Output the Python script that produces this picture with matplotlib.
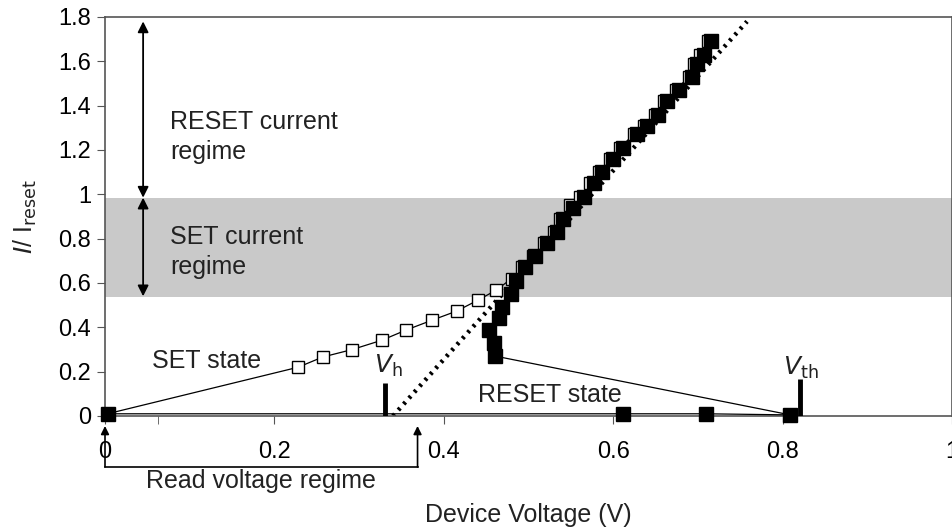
import matplotlib
matplotlib.use("Agg")
import matplotlib.pyplot as plt

plt.rcParams['font.family'] = ['Liberation Sans', 'DejaVu Sans']

# SET state (open squares)
set_v = [0.003, 0.228, 0.257, 0.292, 0.327, 0.355, 0.386, 0.415, 0.44, 0.462, 0.480,
         0.492, 0.505, 0.518, 0.530, 0.537, 0.549, 0.561, 0.573, 0.583, 0.596,
         0.608, 0.624, 0.636, 0.649, 0.660, 0.674, 0.689, 0.695, 0.703, 0.712]
set_i = [0.01, 0.22, 0.266, 0.30, 0.342, 0.387, 0.432, 0.473, 0.522, 0.568, 0.62,
         0.67, 0.72, 0.78, 0.83, 0.89, 0.95, 0.99, 1.05, 1.10, 1.16,
         1.21, 1.27, 1.31, 1.36, 1.42, 1.47, 1.53, 1.59, 1.63, 1.69]

# RESET state (filled squares)
reset_v = [0.003, 0.612, 0.709, 0.809, 0.461, 0.459, 0.453, 0.465, 0.469, 0.479, 0.485,
           0.496, 0.508, 0.522, 0.534, 0.541, 0.553, 0.565, 0.577, 0.587, 0.600,
           0.612, 0.628, 0.640, 0.653, 0.664, 0.678, 0.693, 0.699, 0.707, 0.716]
reset_i = [0.01, 0.01, 0.01, 0.005, 0.27, 0.33, 0.39, 0.44, 0.49, 0.55, 0.61,
           0.67, 0.72, 0.78, 0.83, 0.89, 0.94, 0.99, 1.05, 1.10, 1.16,
           1.21, 1.27, 1.31, 1.36, 1.42, 1.47, 1.53, 1.59, 1.63, 1.69]

# dotted load line
load_v = [0.34, 0.758]
load_i = [0.0, 1.78]

# SET current regime band
band = [0.535, 0.985]

# threshold markers
vh_v, vh_top = 0.331, 0.15
vth_v, vth_top = 0.82, 0.165

xticks = [0, 0.2, 0.4, 0.6, 0.8, 1.0]
xticklabels = ['0', '0.2', '0.4', '0.6', '0.8', '1']
yticks = [0, 0.2, 0.4, 0.6, 0.8, 1.0, 1.2, 1.4, 1.6, 1.8]
yticklabels = ['0', '0.2', '0.4', '0.6', '0.8', '1', '1.2', '1.4', '1.6', '1.8']

fig = plt.figure(figsize=(9.53, 5.28), dpi=100)
ax = fig.add_axes([105/953, 1 - 416/528, (952 - 105)/953, (416 - 17)/528])

ax.axhspan(band[0], band[1], color='#c9c9c9', lw=0, zorder=0)

ax.plot(load_v, load_i, color='black', lw=3.2, ls=(0, (0.6, 1.2)), zorder=2)

ax.plot(set_v, set_i, color='black', lw=0.9, marker='s', ms=8.5,
        mfc='white', mec='black', mew=1.0, zorder=3, clip_on=False)
ax.plot(reset_v, reset_i, color='black', lw=0.9, marker='s', ms=9.5,
        mfc='black', mec='black', zorder=4, clip_on=False)

ax.plot([vh_v, vh_v], [0, vh_top], color='black', lw=3.5, solid_capstyle='butt', zorder=5)
ax.plot([vth_v, vth_v], [0, vth_top], color='black', lw=3.5, solid_capstyle='butt', zorder=5)

ax.set_xlim(0, 1.0)
ax.set_ylim(0, 1.8)
ax.set_xticks(xticks)
ax.set_xticklabels(xticklabels)
ax.set_xticks([0.0625], minor=True)
ax.set_yticks(yticks)
ax.set_yticklabels(yticklabels)
ax.tick_params(axis='x', which='both', direction='out', length=6, pad=12, labelsize=17, color='#555555')
ax.tick_params(axis='y', direction='out', length=6, pad=4, labelsize=17, color='#555555')
for s in ax.spines.values():
    s.set_color('#555555')
    s.set_linewidth(1.2)

ax.set_xlabel('Device Voltage (V)', fontsize=18, labelpad=29, color='#222222')
ax.set_ylabel(r'$\it{I}$/ I$_{\rm reset}$', fontsize=18, labelpad=14, color='#222222')

# regime arrows
ax.annotate('', xy=(0.045, 1.78), xytext=(0.045, 0.985),
            arrowprops=dict(arrowstyle='<|-|>', color='black', lw=1.3, mutation_scale=16,
                            shrinkA=0, shrinkB=0))
ax.annotate('', xy=(0.045, 0.985), xytext=(0.045, 0.54),
            arrowprops=dict(arrowstyle='<|-|>', color='black', lw=1.3, mutation_scale=16,
                            shrinkA=0, shrinkB=0))
ax.text(0.077, 1.26, 'RESET current\nregime', fontsize=18, va='center', ha='left',
        color='#222222', linespacing=1.3)
ax.text(0.077, 0.74, 'SET current\nregime', fontsize=18, va='center', ha='left',
        color='#222222', linespacing=1.3)

ax.text(0.055, 0.25, 'SET state', fontsize=18, va='center', ha='left', color='#222222')
ax.text(0.44, 0.095, 'RESET state', fontsize=18, va='center', ha='left', color='#222222')
ax.text(0.318, 0.225, r'$\it{V}$$_{\rm h}$', fontsize=18, va='center', ha='left', color='#222222')
ax.text(0.80, 0.215, r'$\it{V}$$_{\rm th}$', fontsize=18, va='center', ha='left', color='#222222')

# read voltage regime bracket
br_x = [0.0, 0.369]
br_y_top, br_y_bot = -0.045, -0.23
for bx in br_x:
    ax.annotate('', xy=(bx, br_y_top), xytext=(bx, br_y_bot), annotation_clip=False,
                arrowprops=dict(arrowstyle='-|>', color='black', lw=1.2, mutation_scale=12,
                                shrinkA=0, shrinkB=0))
ax.plot(br_x, [br_y_bot, br_y_bot], color='black', lw=1.2, clip_on=False)
ax.text(sum(br_x)/2, -0.295, 'Read voltage regime', fontsize=18, ha='center', va='center',
        color='#222222')

fig.savefig('out.png', dpi=100)
